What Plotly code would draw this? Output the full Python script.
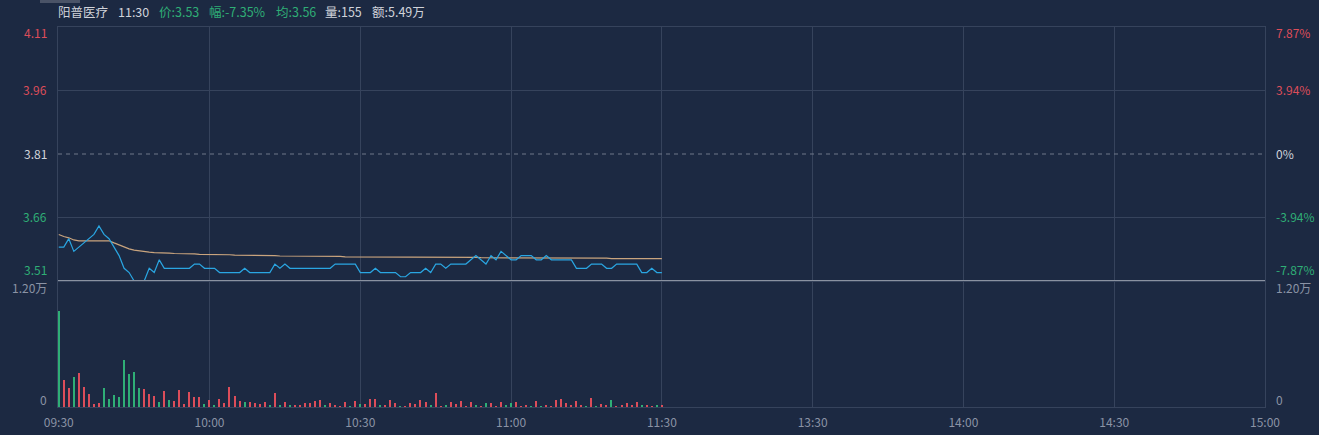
import plotly.graph_objects as go
from plotly.subplots import make_subplots

# ---------------- data ----------------
stock_name = "阳普医疗"
cur_time = "11:30"
cur_price = "3.53"
cur_change = "-7.35%"
cur_avg = "3.56"
cur_vol = "155"
cur_amount = "5.49万"

prev_close = 3.81
price_levels = [4.11, 3.96, 3.81, 3.66, 3.51]
vol_max = 12000
vol_labels = ["1.20万", "0"]

tick_minutes = [0, 30, 60, 90, 120, 150, 180, 210, 240]
tick_labels = ["09:30", "10:00", "10:30", "11:00", "11:30", "13:30", "14:00", "14:30", "15:00"]

minutes = list(range(121))

price = [
    3.59, 3.59, 3.61, 3.58, 3.59, 3.60, 3.61, 3.62, 3.64, 3.62,
    3.61, 3.59, 3.57, 3.54, 3.53, 3.51, 3.51, 3.51, 3.54, 3.53,
    3.56, 3.54, 3.54, 3.54, 3.54, 3.54, 3.54, 3.55, 3.55, 3.54,
    3.54, 3.54, 3.53, 3.53, 3.53, 3.53, 3.53, 3.54, 3.53, 3.53,
    3.53, 3.53, 3.53, 3.55, 3.54, 3.55, 3.54, 3.54, 3.54, 3.54,
    3.54, 3.54, 3.54, 3.54, 3.54, 3.55, 3.55, 3.55, 3.55, 3.55,
    3.53, 3.53, 3.53, 3.54, 3.53, 3.53, 3.53, 3.53, 3.52, 3.52,
    3.53, 3.53, 3.53, 3.54, 3.53, 3.55, 3.55, 3.54, 3.55, 3.55,
    3.55, 3.55, 3.56, 3.57, 3.56, 3.55, 3.57, 3.56, 3.58, 3.57,
    3.56, 3.56, 3.57, 3.57, 3.57, 3.56, 3.56, 3.57, 3.56, 3.56,
    3.56, 3.56, 3.56, 3.54, 3.54, 3.54, 3.55, 3.55, 3.55, 3.54,
    3.54, 3.55, 3.55, 3.55, 3.55, 3.55, 3.53, 3.53, 3.54, 3.53,
    3.53,
]

avg_price = [
    3.620, 3.615, 3.612, 3.607, 3.605, 3.605, 3.605, 3.605, 3.605, 3.605,
    3.605, 3.600, 3.595, 3.590, 3.586, 3.583, 3.581, 3.579, 3.578, 3.577,
    3.577, 3.576, 3.576, 3.575, 3.575, 3.574, 3.574, 3.574, 3.573, 3.573,
    3.573, 3.573, 3.572, 3.572, 3.572, 3.571, 3.571, 3.571, 3.571, 3.570,
    3.570, 3.570, 3.570, 3.570, 3.569, 3.569, 3.569, 3.569, 3.569, 3.569,
    3.568, 3.568, 3.568, 3.568, 3.568, 3.568, 3.568, 3.567, 3.567, 3.567,
    3.567, 3.567, 3.567, 3.567, 3.567, 3.567, 3.566, 3.566, 3.566, 3.566,
    3.566, 3.566, 3.566, 3.566, 3.566, 3.566, 3.566, 3.566, 3.566, 3.566,
    3.566, 3.566, 3.566, 3.566, 3.565, 3.565, 3.565, 3.565, 3.565, 3.565,
    3.565, 3.565, 3.565, 3.565, 3.565, 3.565, 3.564, 3.564, 3.564, 3.564,
    3.564, 3.564, 3.564, 3.564, 3.564, 3.564, 3.564, 3.564, 3.564, 3.564,
    3.563, 3.563, 3.563, 3.563, 3.563, 3.563, 3.563, 3.563, 3.563, 3.563,
    3.563,
]

volume = [
    9100, 2580, 1790, 2890, 3200, 1920, 1230, 310, 350, 1790,
    790, 1100, 1000, 4490, 3140, 3330, 1850, 1730, 1230, 1040,
    440, 1480, 690, 600, 1630, 310, 1450, 910, 910, 310,
    630, 100, 720, 410, 1950, 1070, 530, 440, 500, 410,
    310, 470, 160, 1350, 220, 440, 220, 220, 220, 410,
    410, 600, 690, 130, 410, 190, 60, 470, 60, 530,
    310, 310, 750, 790, 160, 220, 630, 350, 60, 30,
    410, 250, 690, 500, 220, 1350, 60, 120, 500, 250,
    530, 60, 500, 100, 60, 410, 380, 60, 440, 190,
    410, 500, 30, 160, 30, 530, 30, 220, 60, 630,
    720, 380, 120, 600, 190, 60, 880, 30, 250, 160,
    630, 60, 120, 410, 100, 440, 190, 160, 60, 220,
    155,
]

vol_dir = (
    "grrgrrrrrg" "gggggggrrr" "grgrrrrrrg" "rgrrrrrgrr"
    "rrgrgrgrrr" "rrrgrrrrgr" "grrrgrrrgr" "rrrrgrrgrr"
    "rrrgrgrrrg" "grrrgrgrrr" "rrrrrgrgrr" "grrrrrgrrg"
    "r"
)

# ---------------- styles ----------------
BG = "#1c2942"
GRID = "#36435c"
RED = "#dc4d5a"
GREEN = "#2fae76"
TXT = "#d0d3da"
AXTXT = "#8b93a5"
FONT = "Noto Sans CJK SC"

fig = make_subplots(rows=2, cols=1, shared_xaxes=True, vertical_spacing=0,
                    row_heights=[254, 126])

fig.add_trace(go.Scatter(x=minutes, y=avg_price, mode="lines",
                         line=dict(color="#c9a47e", width=1.2), hoverinfo="skip"),
              row=1, col=1)
fig.add_trace(go.Scatter(x=minutes, y=price, mode="lines",
                         line=dict(color="#2aa6e2", width=1.2), hoverinfo="skip"),
              row=1, col=1)
fig.add_trace(go.Bar(x=minutes, y=volume, width=0.26,
                     marker=dict(color=[RED if d == "r" else GREEN for d in vol_dir],
                                 line=dict(width=0))),
              row=2, col=1)

axcommon = dict(showline=True, linecolor=GRID, linewidth=1, mirror=True, zeroline=False,
                automargin=False)
fig.update_xaxes(range=[-0.15, 240], tickvals=tick_minutes, showgrid=True,
                 gridcolor=GRID, gridwidth=1, **axcommon)
fig.update_xaxes(showticklabels=False, ticks="", row=1, col=1)
fig.update_xaxes(ticktext=tick_labels, ticks="outside", ticklen=5, tickcolor="rgba(0,0,0,0)",
                 tickfont=dict(color=AXTXT, size=12, family=FONT), row=2, col=1)
fig.update_yaxes(range=[price_levels[-1], price_levels[0]], tickvals=[price_levels[1], price_levels[3]],
                 showgrid=True, gridcolor=GRID, showticklabels=False, **axcommon, row=1, col=1)
fig.update_yaxes(range=[0, vol_max], showgrid=False, showticklabels=False, **axcommon, row=2, col=1)

fig.add_shape(type="line", xref="x domain", yref="y", x0=0, x1=1, y0=prev_close, y1=prev_close,
              line=dict(color="#6f7889", width=1, dash="4px,4px"))
fig.add_shape(type="line", xref="x domain", yref="y", x0=0, x1=1,
              y0=price_levels[-1], y1=price_levels[-1],
              line=dict(color="#a7acb8", width=1.3))

for p in price_levels:
    if p > prev_close + 1e-9:
        col = RED
    elif p < prev_close - 1e-9:
        col = GREEN
    else:
        col = TXT
    pct = (p - prev_close) / prev_close * 100
    pct_txt = "0%" if abs(pct) < 1e-9 else f"{pct:.2f}%"
    if p == price_levels[0]:
        ya, ys = "top", 5
    elif p == price_levels[-1]:
        ya, ys = "bottom", 1
    else:
        ya, ys = "middle", 1
    fig.add_annotation(x=0, xref="x domain", y=p, yref="y", text=f"{p:.2f}", showarrow=False,
                       xanchor="right", yanchor=ya, xshift=-9, yshift=ys,
                       font=dict(color=col, size=12, family=FONT))
    fig.add_annotation(x=1, xref="x domain", y=p, yref="y", text=pct_txt, showarrow=False,
                       xanchor="left", yanchor=ya, xshift=9, yshift=ys,
                       font=dict(color=col, size=12, family=FONT))

for val, lab, ya, ys in [(vol_max, vol_labels[0], "top", 4), (0, vol_labels[1], "bottom", -3)]:
    fig.add_annotation(x=0, xref="x2 domain", y=val, yref="y2", text=lab, showarrow=False,
                       xanchor="right", yanchor=ya, xshift=-9, yshift=ys,
                       font=dict(color=AXTXT, size=12, family=FONT))
    fig.add_annotation(x=1, xref="x2 domain", y=val, yref="y2", text=lab, showarrow=False,
                       xanchor="left", yanchor=ya, xshift=9, yshift=ys,
                       font=dict(color=AXTXT, size=12, family=FONT))

PW = 1207.0
header = [
    (58, stock_name, TXT), (118, cur_time, TXT), (159, "价:" + cur_price, GREEN),
    (209, "幅:" + cur_change, GREEN), (276, "均:" + cur_avg, GREEN),
    (325, "量:" + cur_vol, TXT), (372, "额:" + cur_amount, TXT),
]
for px, txt, col in header:
    fig.add_annotation(x=(px - 58) / PW, xref="paper", y=(407 - 12) / 380.0, yref="paper",
                       text=txt, showarrow=False, xanchor="left", yanchor="middle", xshift=-2,
                       font=dict(color=col, size=12.5, family=FONT))

fig.add_shape(type="rect", xref="paper", yref="paper", x0=(40 - 58) / PW, x1=(80 - 58) / PW,
              y0=(407 - 3) / 380.0, y1=(407 + 1) / 380.0, line=dict(width=0), fillcolor="#4a5367")

fig.update_layout(width=1319, height=435, margin=dict(l=58, r=54, t=27, b=28, autoexpand=False),
                  paper_bgcolor=BG, plot_bgcolor=BG, showlegend=False, bargap=0,
                  font=dict(family=FONT, color=TXT, size=12))

fig.write_html("out.html", config={"displayModeBar": False},
               post_script="document.body.style.margin='0';document.body.style.padding='0';"
                           "document.body.style.background='" + BG + "';")
